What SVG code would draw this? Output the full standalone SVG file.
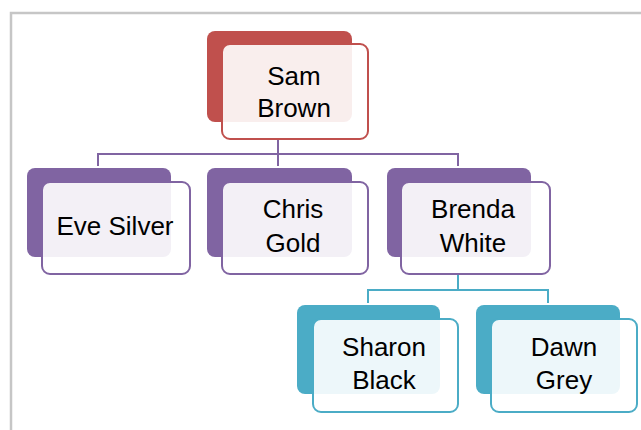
<svg xmlns="http://www.w3.org/2000/svg" width="641" height="430" viewBox="0 0 641 430">
<style>
.frame{fill:none;stroke:#C6C6C6;stroke-width:2.5}
.lbl{font-family:"Liberation Sans",Arial,sans-serif;font-size:26px;fill:#000;text-anchor:middle}
.front{fill:#fff;fill-opacity:0.9;stroke-width:2}
.red .back{fill:#C0504D}.red .front{stroke:#C0504D}
.pur .back{fill:#8064A2}.pur .front{stroke:#8064A2}
.teal .back{fill:#4BACC6}.teal .front{stroke:#4BACC6}
.conn{fill:none;stroke-width:2}
</style>
<rect x="0" y="0" width="641" height="430" fill="#fff"/>
<path class="frame" d="M11 430 V13 H641"/>
<g id="connectors">
<path class="conn" stroke="#8064A2" d="M278 139 V154 M98 166 V154 H458 V166 M278 154 V166"/>
<path class="conn" stroke="#4BACC6" d="M458 274 V290 M368 303 V290 H548 V303"/>
</g>
<g id="sam" class="red">
<rect class="back" x="207" y="31" width="145" height="91" rx="8"/>
<rect class="front" x="222" y="44" width="146" height="95" rx="8"/>
<text class="lbl" x="294" y="85">Sam</text>
<text class="lbl" x="294" y="117">Brown</text>
</g>
<g id="eve" class="pur">
<rect class="back" x="27" y="168" width="144" height="89" rx="8"/>
<rect class="front" x="42" y="182" width="148" height="92" rx="8"/>
<text class="lbl" x="115" y="235">Eve Silver</text>
</g>
<g id="chris" class="pur">
<rect class="back" x="207" y="168" width="145" height="89" rx="8"/>
<rect class="front" x="222" y="182" width="146" height="92" rx="8"/>
<text class="lbl" x="293" y="218">Chris</text>
<text class="lbl" x="293" y="252">Gold</text>
</g>
<g id="brenda" class="pur">
<rect class="back" x="387" y="168" width="144" height="89" rx="8"/>
<rect class="front" x="401" y="182" width="149" height="92" rx="8"/>
<text class="lbl" x="473" y="218">Brenda</text>
<text class="lbl" x="473" y="252">White</text>
</g>
<g id="sharon" class="teal">
<rect class="back" x="297" y="305" width="143" height="89" rx="8"/>
<rect class="front" x="313" y="319" width="145" height="93" rx="8"/>
<text class="lbl" x="384" y="356">Sharon</text>
<text class="lbl" x="384" y="389">Black</text>
</g>
<g id="dawn" class="teal">
<rect class="back" x="476" y="305" width="144" height="89" rx="8"/>
<rect class="front" x="491" y="319" width="146" height="93" rx="8"/>
<text class="lbl" x="564" y="356">Dawn</text>
<text class="lbl" x="564" y="389">Grey</text>
</g>
</svg>
